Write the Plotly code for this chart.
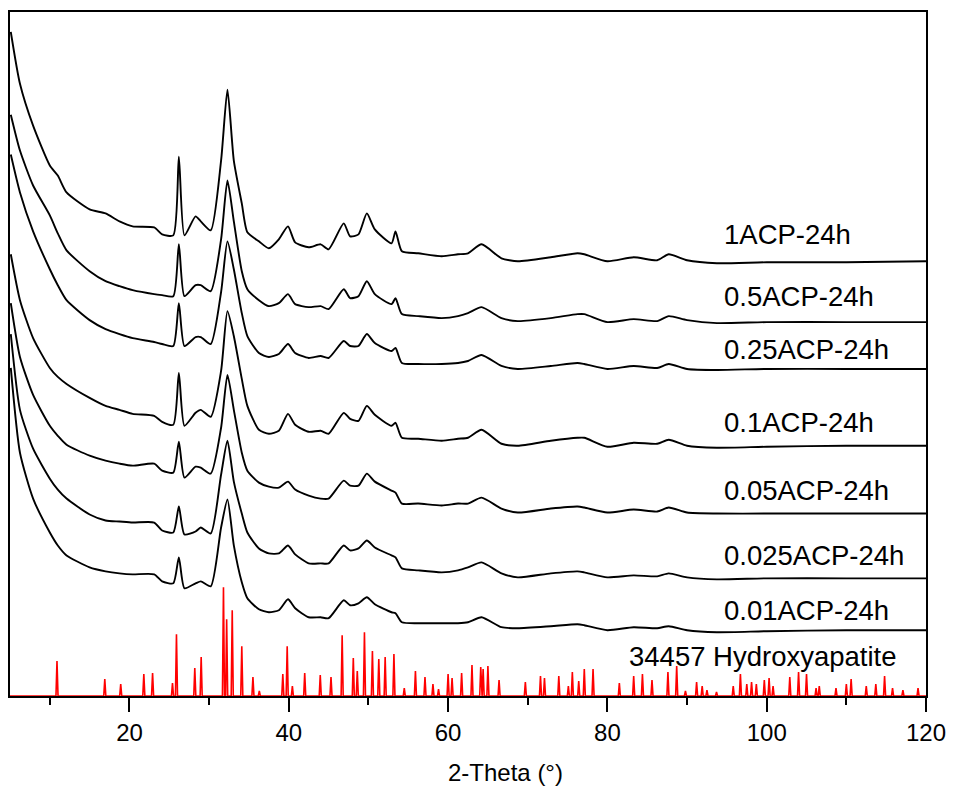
import plotly.graph_objects as go

# 2-Theta grid (degrees) at which each pattern was read
two_theta = [5.1, 6.25, 7.9, 10, 11, 12.1, 15, 17, 18.75, 20.4,
             23.1, 24.1, 25.5, 26.2, 26.9, 28.3, 28.95, 30.2, 31.5, 32.3,
             33.1, 34.1, 34.8, 36.25, 37.5, 38.75, 39.9, 40.8, 42.5, 44,
             45, 46.9, 47.7, 48.75, 49.8, 50.8, 52.9, 53.4, 54.2, 56.25,
             59.2, 61.25, 62.5, 64.2, 66.7, 68.75, 72.9, 76.25, 77.1, 80,
             83.3, 86.25, 87.7, 90, 93.75, 100, 110, 120]

# Intensities (a.u., stacked as plotted)
acp_1 = [666, 614, 572, 532, 522, 505, 488, 484, 476, 471,
         470, 463, 462, 541, 462, 481, 476, 467, 537, 608,
         537, 494, 465, 456, 449, 458, 471, 455, 450, 453,
         448, 474, 461, 463, 484, 468, 454, 466, 446, 444,
         441, 443, 444, 453, 439, 436, 440, 444, 443, 436,
         440, 437, 443, 437, 434, 435, 435, 436]
acp_05 = [583, 547, 512, 482, 464, 447, 426, 416, 411, 407,
          403, 402, 401, 453, 401, 412, 412, 406, 458, 517,
          476, 426, 408, 397, 391, 394, 403, 393, 390, 391,
          388, 408, 399, 401, 416, 403, 393, 399, 383, 381,
          379, 381, 384, 390, 379, 376, 379, 383, 383, 375,
          378, 376, 381, 377, 374, 375, 375, 375]
acp_025 = [543, 505, 466, 428, 412, 397, 377, 368, 363, 359,
           355, 353, 351, 394, 351, 360, 360, 353, 405, 456,
           428, 384, 361, 344, 340, 343, 353, 344, 339, 341,
           339, 356, 351, 351, 363, 354, 346, 349, 334, 333,
           333, 334, 336, 342, 331, 328, 331, 334, 333, 328,
           331, 329, 333, 328, 327, 328, 328, 328]
acp_01 = [443, 397, 359, 329, 320, 313, 299, 291, 287, 283,
          281, 275, 272, 324, 271, 284, 287, 280, 326, 386,
          361, 318, 291, 267, 263, 266, 283, 272, 265, 266,
          263, 284, 278, 276, 291, 282, 271, 274, 259, 258,
          256, 258, 259, 267, 253, 251, 256, 259, 259, 250,
          254, 253, 257, 251, 249, 250, 251, 251]
acp_005 = [394, 340, 302, 271, 261, 252, 241, 236, 233, 231,
           233, 226, 224, 255, 219, 230, 229, 223, 269, 322,
           287, 244, 226, 214, 210, 209, 215, 207, 201, 198,
           198, 216, 211, 211, 223, 215, 206, 204, 193, 193,
           191, 193, 193, 199, 188, 184, 188, 190, 189, 184,
           187, 185, 189, 184, 183, 183, 183, 183]
acp_0025 = [363, 287, 248, 218, 207, 198, 182, 176, 175, 174,
            174, 166, 164, 190, 162, 165, 169, 163, 222, 256,
            215, 183, 164, 148, 143, 143, 151, 142, 133, 133,
            133, 151, 146, 148, 156, 149, 141, 139, 128, 126,
            124, 126, 129, 134, 123, 119, 123, 125, 124, 119,
            121, 120, 123, 119, 117, 118, 118, 118]
acp_001 = [329, 244, 198, 164, 151, 141, 129, 125, 123, 122,
           122, 115, 113, 139, 108, 113, 115, 110, 169, 197,
           151, 114, 98, 87, 84, 86, 97, 88, 79, 79,
           78, 96, 91, 93, 99, 92, 84, 83, 74, 73,
           73, 73, 74, 79, 69, 68, 70, 72, 71, 66,
           69, 68, 70, 66, 64, 65, 66, 66]

series_names = ["1ACP-24h", "0.5ACP-24h", "0.25ACP-24h", "0.1ACP-24h",
                "0.05ACP-24h", "0.025ACP-24h", "0.01ACP-24h"]
series_values = [acp_1, acp_05, acp_025, acp_01, acp_005, acp_0025, acp_001]

# Reference card 34457 Hydroxyapatite: peak positions and heights
hap_pos = [10.9, 16.9, 18.9, 21.8, 22.9, 25.4, 25.9, 28.2, 29.0, 31.8,
           32.2, 32.9, 34.1, 35.5, 36.3, 39.25, 39.8, 40.45, 42.0, 43.95,
           45.3, 46.7, 48.1, 48.6, 49.5, 50.5, 51.3, 52.1, 53.2, 54.5,
           55.9, 57.1, 58.1, 58.8, 60.0, 60.5, 61.7, 63.0, 64.1, 64.4,
           65.0, 66.4, 69.7, 71.6, 72.1, 73.9, 75.1, 75.6, 76.4, 77.1,
           78.2, 81.5, 83.3, 84.4, 85.6, 87.6, 88.7, 89.8, 91.2, 91.9,
           92.5, 93.7, 95.8, 96.7, 97.5, 98.1, 98.7, 99.7, 100.3, 100.8,
           102.9, 104.0, 105.0, 106.2, 106.6, 108.7, 110.0, 110.6, 112.5, 113.7,
           114.8, 115.8, 117.1, 119.0]
hap_int = [35, 17, 12, 22, 23, 13, 62, 28, 39, 109,
           77, 86, 50, 19, 5, 22, 50, 10, 23, 21,
           19, 61, 38, 25, 64, 45, 37, 39, 42, 8,
           25, 19, 12, 7, 22, 18, 23, 31, 29, 27,
           30, 16, 14, 20, 18, 20, 10, 24, 15, 27,
           27, 13, 20, 22, 16, 24, 30, 5, 14, 10,
           6, 4, 10, 22, 12, 14, 12, 16, 18, 10,
           19, 24, 22, 8, 10, 8, 12, 17, 10, 12,
           20, 8, 6, 8]

X_RANGE = [5, 120]
Y_RANGE = [0, 686]
FONT = "Liberation Sans, Arial, sans-serif"

fig = go.Figure()

for name, vals in zip(series_names, series_values):
    fig.add_trace(go.Scatter(x=two_theta, y=vals, mode="lines", name=name,
                             line=dict(color="black", width=1.9, shape="spline", smoothing=0.6),
                             showlegend=False))

# stick pattern built from the peak list
half_w = 0.13
sx, sy = [X_RANGE[0]], [0]
for p, h in zip(hap_pos, hap_int):
    sx += [p - half_w, p, p + half_w]
    sy += [0, h, 0]
sx.append(X_RANGE[1])
sy.append(0)
fig.add_trace(go.Scatter(x=sx, y=sy, mode="lines", line=dict(color="#ff0000", width=1.6),
                         cliponaxis=False, showlegend=False))

label_y = [463, 401, 348, 274, 206, 141, 86]
for name, ly in zip(series_names, label_y):
    fig.add_annotation(x=94.4, y=ly, text=name, showarrow=False, xanchor="left",
                       yanchor="middle", font=dict(size=27.5, color="black", family=FONT))
fig.add_annotation(x=82.5, y=40, text="34457 Hydroxyapatite", showarrow=False,
                   xanchor="left", yanchor="middle",
                   font=dict(size=27.5, color="black", family=FONT))

fig.add_annotation(x=0.541, y=-0.112, xref="paper", yref="paper", text="2-Theta (°)",
                   showarrow=False, xanchor="center", yanchor="middle",
                   font=dict(size=24, color="black", family=FONT))

fig.update_xaxes(range=X_RANGE, tick0=0, dtick=20, ticks="outside", ticklen=14, tickwidth=2,
                 tickcolor="black", showline=True, linecolor="black", linewidth=2, mirror=True,
                 showgrid=False, zeroline=False, layer="below traces",
                 tickfont=dict(size=24, color="black", family=FONT),
                 minor=dict(dtick=10, tick0=0, ticks="outside", ticklen=7, tickwidth=2,
                            tickcolor="black", showgrid=False))
fig.update_yaxes(range=Y_RANGE, showticklabels=False, ticks="", showline=True,
                 linecolor="black", linewidth=2, mirror=True, showgrid=False, zeroline=False,
                 layer="below traces")

fig.update_layout(width=956, height=789, margin=dict(l=10, r=25, t=10, b=93),
                  plot_bgcolor="white", paper_bgcolor="white",
                  font=dict(family=FONT, color="black"))

fig.write_html("out.html")
